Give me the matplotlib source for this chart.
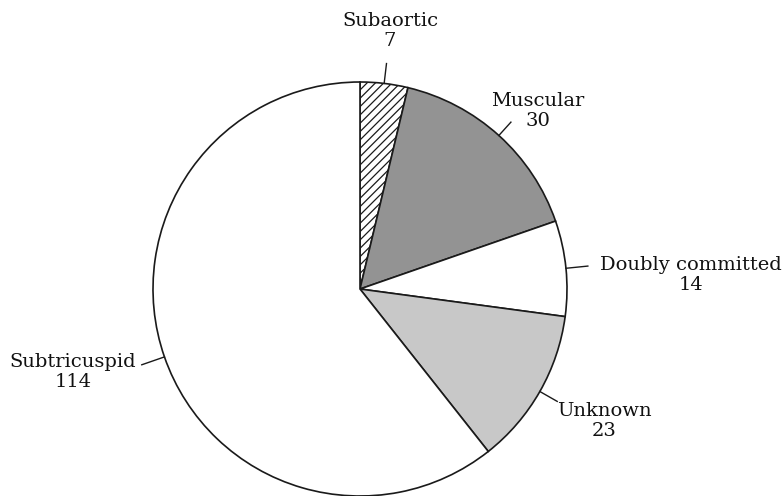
import numpy as np
import matplotlib.pyplot as plt

# VSD types (clockwise from 12 o'clock)
labels = ['Subaortic', 'Muscular', 'Doubly committed', 'Unknown', 'Subtricuspid']
counts = [7, 30, 14, 23, 114]
colors = ['white', '#939393', 'white', '#c8c8c8', 'white']
hatches = ['////', '', '', '', '']

plt.rcParams['font.family'] = ['DejaVu Serif']
plt.rcParams['hatch.linewidth'] = 0.9

W, H = 784, 496
fig = plt.figure(figsize=(W / 100, H / 100), dpi=100)
ax = fig.add_axes([0, 0, 1, 1])

cx, cy, R = 360, H - 289, 207
wedges, _ = ax.pie(counts, colors=colors, startangle=90, counterclock=False,
                   center=(cx, cy), radius=R, frame=True,
                   wedgeprops=dict(edgecolor='#1a1a1a', linewidth=1.2))
for w, h in zip(wedges, hatches):
    w.set_hatch(h)

# label text centres (image pixels) and leader lengths
text_pos = [(390, 31), (538, 111), (691, 275), (604, 421), (73, 372)]
lead = [20, 18, 22, 20, 24]

for w, lab, n, (tx, ty), L in zip(wedges, labels, counts, text_pos, lead):
    a = np.deg2rad((w.theta1 + w.theta2) / 2)
    x0, y0 = cx + R * np.cos(a), cy + R * np.sin(a)
    x1, y1 = cx + (R + L) * np.cos(a), cy + (R + L) * np.sin(a)
    ax.plot([x0, x1], [y0, y1], color='#1a1a1a', lw=1.0)
    ax.text(tx, H - ty, f'{lab}\n{n}', ha='center', va='center',
            fontsize=14, color='#111111', linespacing=1.1)

ax.set_xlim(0, W)
ax.set_ylim(0, H)
ax.set_aspect('equal')
ax.axis('off')

fig.savefig('out.png', dpi=100)
